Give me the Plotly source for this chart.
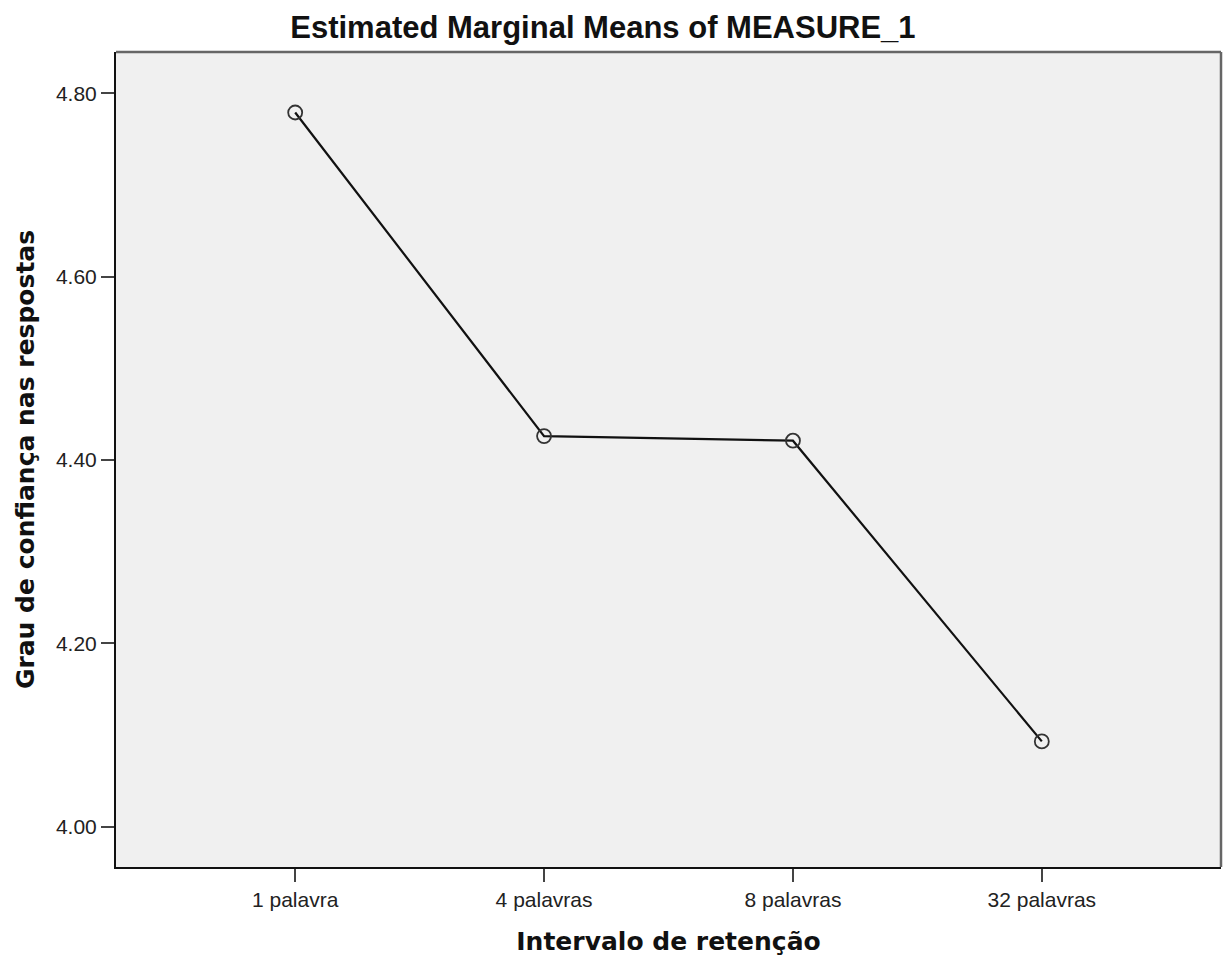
import plotly.graph_objects as go

categories = ["1 palavra", "4 palavras", "8 palavras", "32 palavras"]
means = [4.779, 4.426, 4.421, 4.093]
y_ticks = [4.00, 4.20, 4.40, 4.60, 4.80]
y_tick_labels = ["4.00", "4.20", "4.40", "4.60", "4.80"]

fig = go.Figure()
fig.add_trace(go.Scatter(
    x=list(range(len(categories))), y=means, mode="lines+markers",
    line=dict(color="#111111", width=2.2),
    marker=dict(symbol="circle-open", size=14, color="#333333", line=dict(width=1.8, color="#333333")),
    showlegend=False, hoverinfo="skip",
))

arial = "Liberation Sans, Arial, sans-serif"
verdana = "DejaVu Sans, Verdana, sans-serif"
fig.update_layout(
    width=1223, height=962,
    margin=dict(l=116, r=2, t=52, b=95),
    paper_bgcolor="white", plot_bgcolor="#f0f0f0",
    font=dict(family=arial, color="#222222"),
    title=dict(text="<b>Estimated Marginal Means of MEASURE_1</b>", x=0.493, xanchor="center",
               y=1 - 27/962, yanchor="middle", font=dict(size=31, color="#111111", family=arial)),
    xaxis=dict(
        range=[-0.72, 3.72], tickmode="array", tickvals=list(range(len(categories))), ticktext=categories,
        showgrid=False, zeroline=False, showline=True, linecolor="#111111", linewidth=2,
        ticks="outside", ticklen=13, tickwidth=2, tickcolor="#444444",
        tickfont=dict(size=21, color="#222222"),
        title=dict(text="<b>Intervalo de retenção</b>", font=dict(size=25, color="#111111", family=verdana), standoff=22),
    ),
    yaxis=dict(
        range=[3.956, 4.845], tickmode="array", tickvals=y_ticks, ticktext=y_tick_labels,
        showgrid=False, zeroline=False, showline=True, linecolor="#111111", linewidth=2,
        ticks="outside", ticklen=13, tickwidth=2, tickcolor="#444444",
        tickfont=dict(size=21, color="#222222"),
        title=dict(text="<b>Grau de confiança nas respostas</b>", font=dict(size=25, color="#111111", family=verdana), standoff=14),
    ),
)
# top and right frame lines
fig.add_shape(type="line", xref="paper", yref="paper", x0=0, x1=1, y0=1, y1=1,
              line=dict(color="#666666", width=2.5))
fig.add_shape(type="line", xref="paper", yref="paper", x0=1, x1=1, y0=0, y1=1,
              line=dict(color="#666666", width=2.5))

fig.write_html("out.html", config={"displayModeBar": False})
with open("out.html", "r", encoding="utf-8") as f:
    html = f.read()
html = html.replace("<body>", '<body style="margin:0;padding:0;overflow:hidden">', 1)
with open("out.html", "w", encoding="utf-8") as f:
    f.write(html)
